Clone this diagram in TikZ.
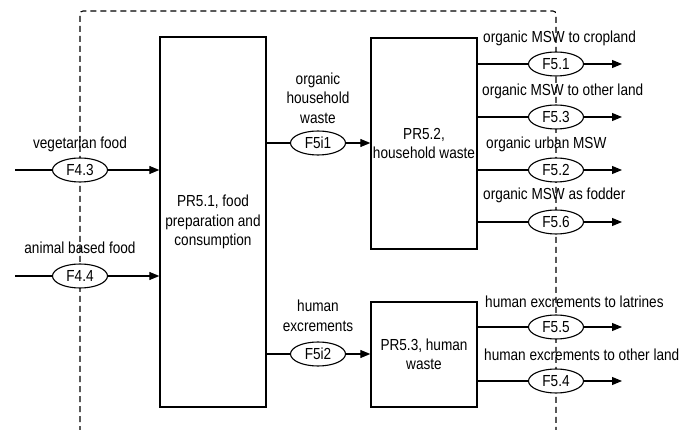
\documentclass[tikz,border=0pt]{standalone}
\usepackage{fontspec}
\setmainfont[FakeStretch=0.85]{Liberation Sans}
\usetikzlibrary{shapes.geometric,arrows.meta}
\begin{document}
\begin{tikzpicture}[x=1pt,y=-1pt,
  every node/.style={font=\fontsize{16}{19.5}\selectfont},
  proc/.style={draw,line width=1.4pt,minimum width=106pt,align=center,inner sep=0pt},
  flow/.style={draw,fill=white,ellipse,line width=1.1pt,minimum width=55pt,minimum height=24pt,inner sep=0pt},
  lbl/.style={inner sep=0pt,align=center},
  rlbl/.style={inner sep=0pt,anchor=base west},
  conn/.style={line width=1.1pt},
  arr/.style={line width=1.1pt,-{Triangle[length=10pt,width=8pt]}},
  bound/.style={line width=1.1pt,dash pattern=on 6pt off 4pt,rounded corners=3pt}]
\useasboundingbox (0,0) rectangle (683,430);
\clip (0,0) rectangle (683,430);
% system boundary
\coordinate (bl) at (80,432);
\coordinate (tl) at (80,11);
\coordinate (tr) at (556,11);
\coordinate (br) at (556,432);
\draw[bound] (bl) -- (tl) -- (tr) -- (br);
% processes
\node[proc,minimum height=370pt] (pr51) at (213,222) {PR5.1, food\\preparation and\\consumption};
\node[proc,minimum height=211pt] (pr52) at (424,143.5) {PR5.2,\\household waste};
\node[proc,minimum height=105pt] (pr53) at (424,354.5) {PR5.3, human\\waste};
% inputs
\node[flow] (f43) at (80,170) {F4.3};
\node[flow] (f44) at (80,276) {F4.4};
\coordinate (i43) at (15,170);
\coordinate (i44) at (15,276);
\draw[conn] (i43) -- (f43);
\draw[arr] (f43) -- (f43 -| pr51.west);
\draw[conn] (i44) -- (f44);
\draw[arr] (f44) -- (f44 -| pr51.west);
\node[lbl,anchor=base] (l43) at (80,149) {vegetarian food};
\node[lbl,anchor=base] (l44) at (80,254) {animal based food};
% intermediate
\node[flow] (f5i1) at (318,143) {F5i1};
\node[flow] (f5i2) at (318,354) {F5i2};
\draw[conn] (pr51.east |- f5i1) -- (f5i1);
\draw[arr] (f5i1) -- (f5i1 -| pr52.west);
\draw[conn] (pr51.east |- f5i2) -- (f5i2);
\draw[arr] (f5i2) -- (f5i2 -| pr53.west);
\node[lbl] (l5i1) at (318,98) {organic\\household\\waste};
\node[lbl] (l5i2) at (318,316) {human\\excrements};
% outputs
\node[flow] (f51) at (556,64) {F5.1};
\node[flow] (f53) at (556,117) {F5.3};
\node[flow] (f52) at (556,170) {F5.2};
\node[flow] (f56) at (556,222) {F5.6};
\node[flow] (f55) at (556,327) {F5.5};
\node[flow] (f54) at (556,381) {F5.4};
\coordinate (o51) at (622,64);
\coordinate (o53) at (622,117);
\coordinate (o52) at (622,170);
\coordinate (o56) at (622,222);
\coordinate (o55) at (622,327);
\coordinate (o54) at (622,381);
\foreach \f in {51,53,52,56} {
  \draw[conn] (pr52.east |- f\f) -- (f\f);
  \draw[arr] (f\f) -- (o\f);
}
\foreach \f in {55,54} {
  \draw[conn] (pr53.east |- f\f) -- (f\f);
  \draw[arr] (f\f) -- (o\f);
}
\node[rlbl] (l51) at (483,43) {organic MSW to cropland};
\node[rlbl] (l53) at (482,96) {organic MSW to other land};
\node[rlbl] (l52) at (486,149) {organic urban MSW};
\node[rlbl] (l56) at (483,200) {organic MSW as fodder};
\node[rlbl] (l55) at (485,308) {human excrements to latrines};
\node[rlbl] (l54) at (484,360) {human excrements to other land};
\end{tikzpicture}
\end{document}
